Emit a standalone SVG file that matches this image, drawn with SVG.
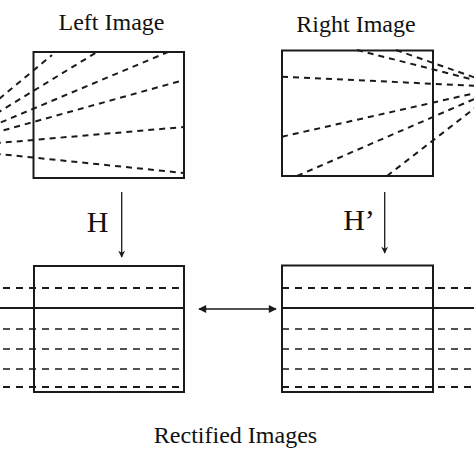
<svg xmlns="http://www.w3.org/2000/svg" width="474" height="474" viewBox="0 0 474 474">
<style>
.t{font-family:"Liberation Serif","Times New Roman",serif;fill:#111;text-anchor:middle}
.box{fill:none;stroke:#1a1a1a;stroke-width:2}
.ep{stroke:#1a1a1a;stroke-width:2;stroke-dasharray:6 5;fill:none}
.rl{stroke:#1a1a1a;stroke-width:1.7;stroke-dasharray:7 6;fill:none}
.rlb{stroke:#1a1a1a;stroke-width:2.1;stroke-dasharray:7 6;fill:none}
.sl{stroke:#1a1a1a;stroke-width:1.9;fill:none}
.ar{stroke:#1a1a1a;stroke-width:1.3;fill:none}
</style>
<defs>
<marker id="ah" viewBox="0 0 10 10" refX="9" refY="5" markerWidth="7" markerHeight="7" markerUnits="userSpaceOnUse" orient="auto-start-reverse">
<path d="M0,0 L10,5 L0,10 L3,5 Z" fill="#1a1a1a"/>
</marker>
<marker id="ahf" viewBox="0 0 10 10" refX="9" refY="5" markerWidth="9" markerHeight="8" markerUnits="userSpaceOnUse" orient="auto-start-reverse">
<path d="M0,0 L10,5 L0,10 Z" fill="#1a1a1a"/>
</marker>
</defs>
<rect width="474" height="474" fill="#fff"/>

<text class="t" x="111.5" y="30" font-size="24">Left Image</text>
<text class="t" x="356" y="31.5" font-size="24">Right Image</text>
<text class="t" x="235.5" y="442.5" font-size="24">Rectified Images</text>

<g id="left-image">
<g class="ep">
<path d="M-60,148 L52,55"/>
<path d="M-60,148 L97,52"/>
<path d="M-60,148 L168,52"/>
<path d="M-60,148 L184,80"/>
<path d="M-60,148 L184,127"/>
<path d="M-60,148 L184,173"/>
</g>
<rect class="box" x="33.5" y="52" width="150.5" height="126"/>
</g>

<g id="right-image">
<g class="ep">
<path d="M357,50 L502,87"/>
<path d="M396,50 L502,87"/>
<path d="M282,76.7 L502,87"/>
<path d="M282,136.7 L502,87"/>
<path d="M297,176 L502,87"/>
<path d="M387,176 L502,87"/>
</g>
<rect class="box" x="282" y="50.5" width="151" height="125.5"/>
</g>

<g id="left-rectified">
<path class="rlb" d="M3,288 H184"/>
<path class="sl" d="M0,308 H184"/>
<path class="rl" d="M3,329 H184"/>
<path class="rl" d="M3,349 H184"/>
<path class="rl" d="M3,369 H184"/>
<path class="rlb" d="M3,387 H184"/>
<rect class="box" x="34" y="266" width="150" height="126"/>
</g>

<g id="right-rectified">
<path class="rlb" d="M282,288 H474"/>
<path class="sl" d="M282,308 H474"/>
<path class="rl" d="M282,329 H474"/>
<path class="rl" d="M282,349 H474"/>
<path class="rl" d="M282,369 H474"/>
<path class="rlb" d="M282,387 H474"/>
<rect class="box" x="282" y="265.5" width="151" height="126.5"/>
</g>

<g id="connectors">
<path class="ar" d="M121.7,192 V257" marker-end="url(#ah)"/>
<text class="t" x="97.5" y="231.7" font-size="30">H</text>
<path class="ar" d="M384.7,192 V253" marker-end="url(#ah)"/>
<text class="t" x="359" y="230" font-size="30">H’</text>
<path class="ar" d="M199,309 H276" marker-start="url(#ahf)" marker-end="url(#ahf)"/>
</g>
</svg>
